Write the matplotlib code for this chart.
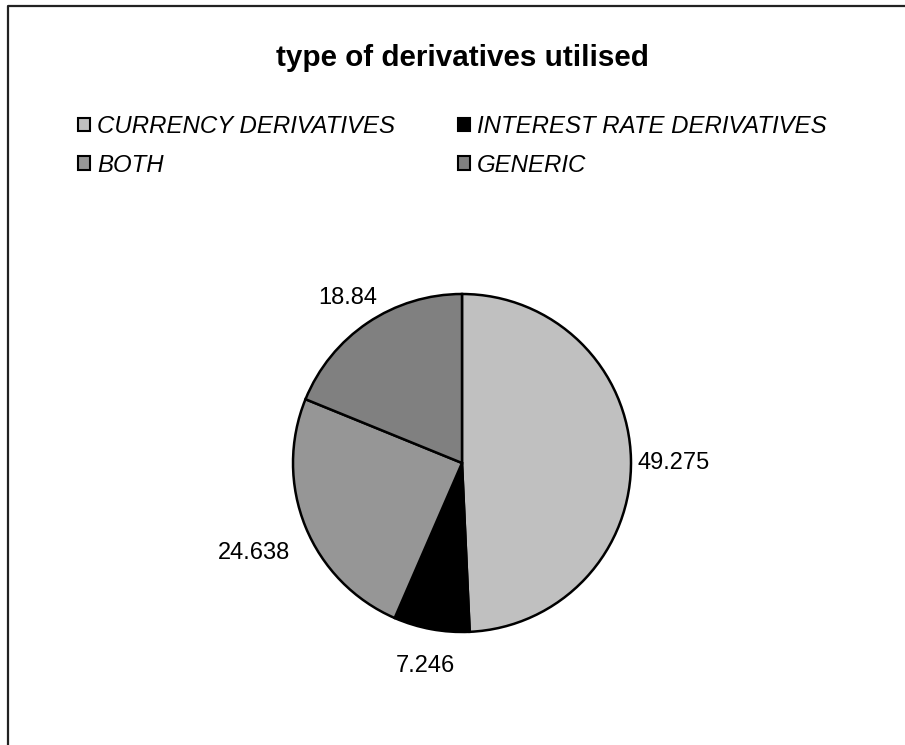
import numpy as np
import matplotlib
matplotlib.use("Agg")
import matplotlib.pyplot as plt
from matplotlib.patches import Patch
from matplotlib.lines import Line2D

plt.rcParams['font.family'] = ['Liberation Sans', 'DejaVu Sans']

# data
categories = ['CURRENCY DERIVATIVES', 'INTEREST RATE DERIVATIVES', 'BOTH', 'GENERIC']
values = [49.275, 7.246, 24.638, 18.84]
value_labels = ['49.275', '7.246', '24.638', '18.84']
colors = ['#C0C0C0', '#000000', '#969696', '#808080']

# how far out each value label sits (in pie radii)
label_dist = [1.25, 1.19, 1.33, 1.21]

W, H = 905, 745
fig = plt.figure(figsize=(W / 100, H / 100), dpi=100)

# pie centre ~ (462, 463) px, radius ~169 px
cx, cy, r = 462, 463, 169
ax = fig.add_axes([(cx - r) / W, (H - cy - r) / H, 2 * r / W, 2 * r / H])
wedges, _ = ax.pie(values, colors=colors, startangle=90, counterclock=False,
                   wedgeprops=dict(edgecolor='black', linewidth=1.8))
for w, lab, d in zip(wedges, value_labels, label_dist):
    mid = np.deg2rad((w.theta1 + w.theta2) / 2)
    ax.text(d * np.cos(mid), d * np.sin(mid) - 0.03, lab, ha='center',
            va='center', fontsize=17, color='black')
ax.set_xlim(-1, 1)
ax.set_ylim(-1, 1)
ax.set_aspect('equal')

fig.text(462 / W, 1 - 58 / H, 'type of derivatives utilised',
         ha='center', va='center', fontsize=21.3, fontweight='bold')

# legend fills row by row in the reference, so feed matplotlib column order
order = [0, 2, 1, 3]
handles = [Patch(facecolor=colors[i], edgecolor='black', linewidth=1.5) for i in order]
leg = fig.legend(handles, [categories[i] for i in order], ncol=2, loc='upper left',
                 bbox_to_anchor=(78 / W, 1 - 115 / H), frameon=False,
                 borderpad=0, borderaxespad=0, handlelength=0.5,
                 handleheight=0.5, handletextpad=0.3, columnspacing=2.6,
                 labelspacing=0.66, prop=dict(size=17.3, style='italic'))

# outer chart border (left and top visible)
fig.add_artist(Line2D([8 / W, 8 / W, 1.0], [0.0, 1 - 6 / H, 1 - 6 / H],
                      transform=fig.transFigure, color='#222222', linewidth=1.6))

fig.savefig('out.png', dpi=100, facecolor='white')
